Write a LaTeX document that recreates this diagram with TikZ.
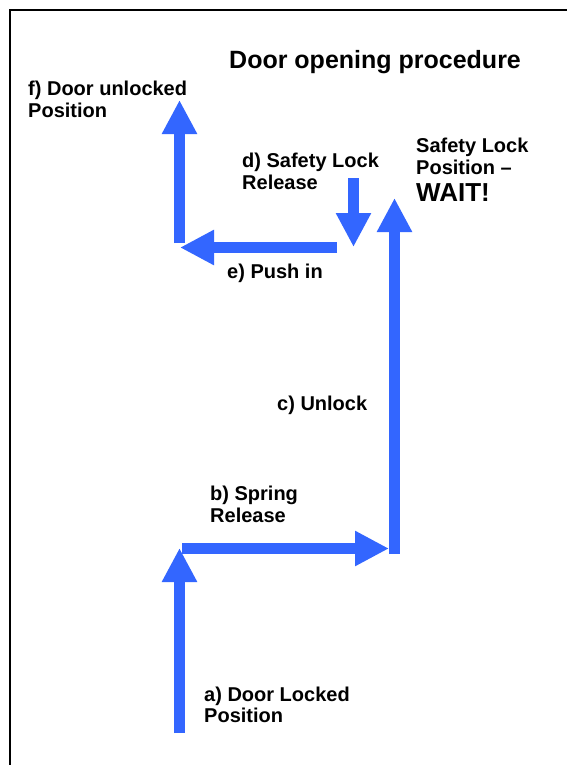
\documentclass[tikz,border=0pt]{standalone}
\usepackage{fontspec}
\setmainfont{Liberation Sans}
\usetikzlibrary{arrows.meta}
\definecolor{arrowblue}{RGB}{51,102,255}
\tikzset{
  bigarrow/.style={draw=arrowblue, line width=11pt,
    -{Triangle[width=33pt,length=34pt,fill=arrowblue]}},
  lab/.style={anchor=base west, inner sep=0pt, font=\fontsize{20}{22.5}\selectfont\bfseries},
  frame/.style={draw=black, line width=2pt}
}
\begin{document}
\begin{tikzpicture}[x=1pt,y=-1pt]
\useasboundingbox (0,0) rectangle (567,765);
\fill[white] (0,0) rectangle (567,765);
% frame (only top and left visible)
\coordinate (fr1) at (567,10);
\coordinate (fr2) at (9.5,10);
\coordinate (fr3) at (9.5,765);
\draw[frame] (fr1) -- (fr2) -- (fr3);

% arrow end points
\coordinate (a0) at (179.5,733);
\coordinate (a1) at (179.5,548);
\coordinate (b0) at (182,548.5);
\coordinate (b1) at (389,548.5);
\coordinate (c0) at (394.5,554);
\coordinate (c1) at (394.5,198);
\coordinate (d0) at (353.5,178);
\coordinate (d1) at (353.5,247);
\coordinate (e0) at (337,247.5);
\coordinate (e1) at (180,247.5);
\coordinate (f0) at (179.5,243);
\coordinate (f1) at (179.5,100);

\draw[bigarrow] (a0) -- (a1);
\draw[bigarrow] (b0) -- (b1);
\draw[bigarrow] (c0) -- (c1);
\draw[bigarrow] (d0) -- (d1);
\draw[bigarrow] (e0) -- (e1);
\draw[bigarrow] (f0) -- (f1);

% texts
\node[lab, font=\fontsize{25}{28}\selectfont\bfseries] (title) at (229,69) {Door opening procedure};
\node[lab] (tf) at (28,96) {\begin{tabular}[t]{@{}l@{}}f) Door unlocked\\[-1pt] Position\end{tabular}};
\node[lab] (td) at (242,167) {\begin{tabular}[t]{@{}l@{}}d) Safety Lock\\ Release\end{tabular}};
\node[lab] (tsl) at (416,152) {\begin{tabular}[t]{@{}l@{}}Safety Lock\\ Position --\\[2pt] {\fontsize{26}{28}\selectfont WAIT!}\end{tabular}};
\node[lab] (te) at (227,278) {e) Push in};
\node[lab] (tc) at (277,410) {c) Unlock};
\node[lab] (tb) at (210,500) {\begin{tabular}[t]{@{}l@{}}b) Spring\\ Release\end{tabular}};
\node[lab] (ta) at (204,701) {\begin{tabular}[t]{@{}l@{}}a) Door Locked\\[-1pt] Position\end{tabular}};
\end{tikzpicture}
\end{document}
